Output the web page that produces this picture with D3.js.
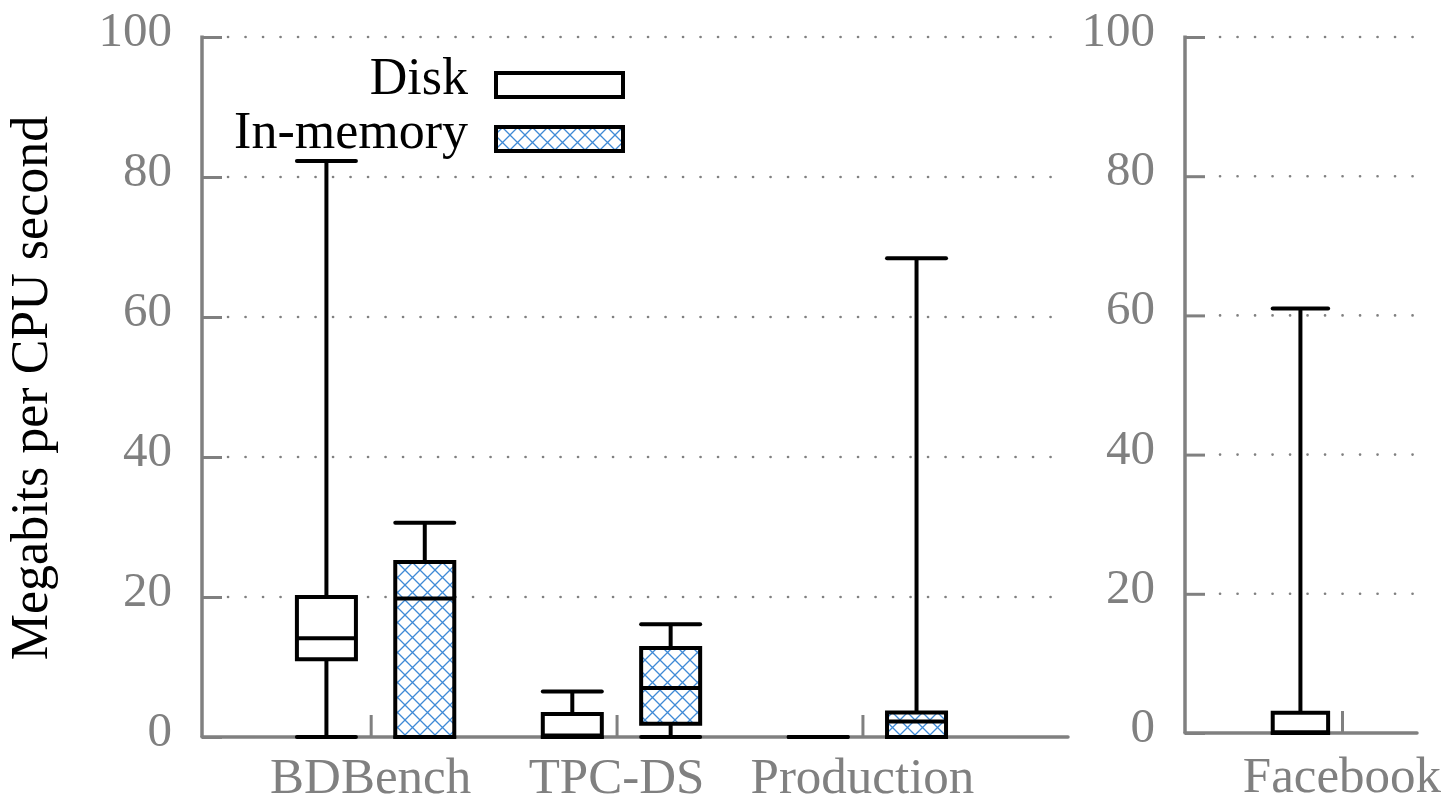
<!DOCTYPE html>
<html><head><meta charset="utf-8">
<script src="https://cdn.jsdelivr.net/npm/d3@7"></script>
<style>body{margin:0;background:#fff}svg{display:block}text{font-family:"Liberation Serif","DejaVu Serif",serif}</style>
</head><body><svg id="c" width="1448" height="805"></svg>
<script>
// ---- data ----
const categories = ["BDBench", "TPC-DS", "Production"];
const rightCategories = ["Facebook"];
const series = ["Disk", "In-memory"];
// [low whisker, q1, median, q3, high whisker]
const diskStats = [[0, 11.1, 14.1, 20.0, 82.3], [0, 0, 0.2, 3.3, 6.5], [0, 0, 0, 0, 0]];
const memStats  = [[0, 0, 19.8, 25.0, 30.6], [0, 1.9, 7.0, 12.7, 16.1], [0, 0, 2.2, 3.5, 68.4]];
const facebookStats = [[0, 0, 0.1, 2.9, 61.0]];
const yTicks = [0, 20, 40, 60, 80, 100];
const yLabel = "Megabits per CPU second";

const svg = d3.select("#c");
const gray = "#808080";

const defs = svg.append("defs");
const pat = defs.append("pattern").attr("id","hatch").attr("patternUnits","userSpaceOnUse")
  .attr("width",15).attr("height",15);
pat.append("rect").attr("width",15).attr("height",15).attr("fill","#fff");
pat.append("path").attr("d","M0,0L15,15M15,0L0,15M-1,14L1,16M14,-1L16,1")
  .attr("stroke","#3f8ad6").attr("stroke-width",1.3).attr("fill","none");

function panel(cfg) {
  const x = d3.scaleLinear().domain(cfg.xDomain).range([cfg.x0, cfg.x1]);
  const y = d3.scaleLinear().domain([0, 100]).range([cfg.y0, cfg.yTop]);
  const g = svg.append("g");
  // gridlines
  g.selectAll(".grid").data(yTicks.filter(d => d > 0)).join("line")
    .attr("x1", cfg.gx0).attr("x2", cfg.x1 - 2).attr("y1", d => y(d)).attr("y2", d => y(d))
    .attr("stroke", gray).attr("stroke-width", 2.6).attr("stroke-linecap","round")
    .attr("stroke-dasharray", "0.1 17.4");
  // y axis
  const ya = d3.axisRight(y).tickValues(yTicks).tickSize(20).tickFormat("");
  const yg = g.append("g").attr("transform", `translate(${cfg.x0},0)`).call(ya);
  yg.select(".domain").remove();
  yg.selectAll(".tick line").attr("stroke", gray).attr("stroke-width", 3);
  g.append("line").attr("x1", cfg.x0).attr("x2", cfg.x0).attr("y1", cfg.yTop - 1.5).attr("y2", cfg.y0)
    .attr("stroke", gray).attr("stroke-width", 3.5);
  g.selectAll(".ylab").data(yTicks).join("text")
    .attr("x", cfg.x0 - 30).attr("y", d => y(d) + 9).attr("text-anchor","end")
    .attr("font-size", 49).attr("fill", gray).text(d => d);
  // x axis
  g.append("line").attr("x1", cfg.x0).attr("x2", cfg.x1).attr("y1", cfg.y0).attr("y2", cfg.y0)
    .attr("stroke", gray).attr("stroke-width", 3.5).attr("stroke-linecap","round");
  const xa = d3.axisTop(x).tickValues(d3.range(cfg.cats.length)).tickSize(22).tickFormat("");
  const xg = g.append("g").attr("transform", `translate(0,${cfg.y0})`).call(xa);
  xg.select(".domain").remove();
  xg.selectAll(".tick line").attr("stroke", gray).attr("stroke-width", 3);
  g.selectAll(".xlab").data(cfg.cats).join("text")
    .attr("x", (d, i) => x(i)).attr("y", Math.min(cfg.y0 + 59, 793)).attr("text-anchor","middle")
    .attr("font-size", 51).attr("fill", gray).text(d => d);
  return {x, y, g};
}

function boxes(p, stats, offset, fill) {
  const bw = 0.24;
  const grp = p.g.selectAll(null).data(stats).join("g");
  const cx = (d, i) => p.x(i + offset);
  // whiskers
  grp.append("line").attr("x1", cx).attr("x2", cx).attr("y1", d => p.y(d[3])).attr("y2", d => p.y(d[4]))
    .attr("stroke","#000").attr("stroke-width",4);
  grp.append("line").attr("x1", cx).attr("x2", cx).attr("y1", d => p.y(d[0])).attr("y2", d => p.y(d[1]))
    .attr("stroke","#000").attr("stroke-width",4);
  // caps
  [0, 4].forEach(k => {
    grp.append("line").attr("x1", (d, i) => p.x(i + offset - bw / 2)).attr("x2", (d, i) => p.x(i + offset + bw / 2))
      .attr("y1", d => p.y(d[k])).attr("y2", d => p.y(d[k]))
      .attr("stroke","#000").attr("stroke-width",4).attr("stroke-linecap","round");
  });
  // box
  grp.append("path").attr("d", (d, i) => {
      const a = p.x(i + offset - bw / 2), b = p.x(i + offset + bw / 2);
      return `M${a},${p.y(d[1])}H${b}V${p.y(d[3])}H${a}Z`;
    })
    .attr("fill", fill).attr("stroke","#000").attr("stroke-width",4).attr("stroke-linejoin","miter");
  // median
  grp.append("line").attr("x1", (d, i) => p.x(i + offset - bw / 2)).attr("x2", (d, i) => p.x(i + offset + bw / 2))
    .attr("y1", d => p.y(d[2])).attr("y2", d => p.y(d[2]))
    .attr("stroke","#000").attr("stroke-width",4);
}

const left = panel({xDomain: [-0.686, 2.836], x0: 202, x1: 1068, gx0: 228, y0: 737, yTop: 37, cats: categories});
boxes(left, diskStats, -0.18, "#fff");
boxes(left, memStats, 0.22, "url(#hatch)");

const right = panel({xDomain: [-0.68, 0.325], x0: 1185, x1: 1417, gx0: 1220, y0: 733, yTop: 37, cats: rightCategories});
boxes(right, facebookStats, -0.18, "#fff");

// legend
const lg = svg.append("g");
const fills = ["#fff", "url(#hatch)"];
series.forEach((s, i) => {
  lg.append("text").attr("x", 468).attr("y", 94 + i * 54).attr("text-anchor","end")
    .attr("font-size", 52).attr("fill","#000").text(s);
  lg.append("rect").attr("x", 496).attr("y", 73 + i * 54).attr("width", 127).attr("height", 24)
    .attr("fill", fills[i]).attr("stroke","#000").attr("stroke-width",4);
});

// y label
svg.append("text").attr("transform","translate(47,388) rotate(-90)").attr("text-anchor","middle")
  .attr("font-size", 52).attr("fill","#000").text(yLabel);
</script></body></html>
